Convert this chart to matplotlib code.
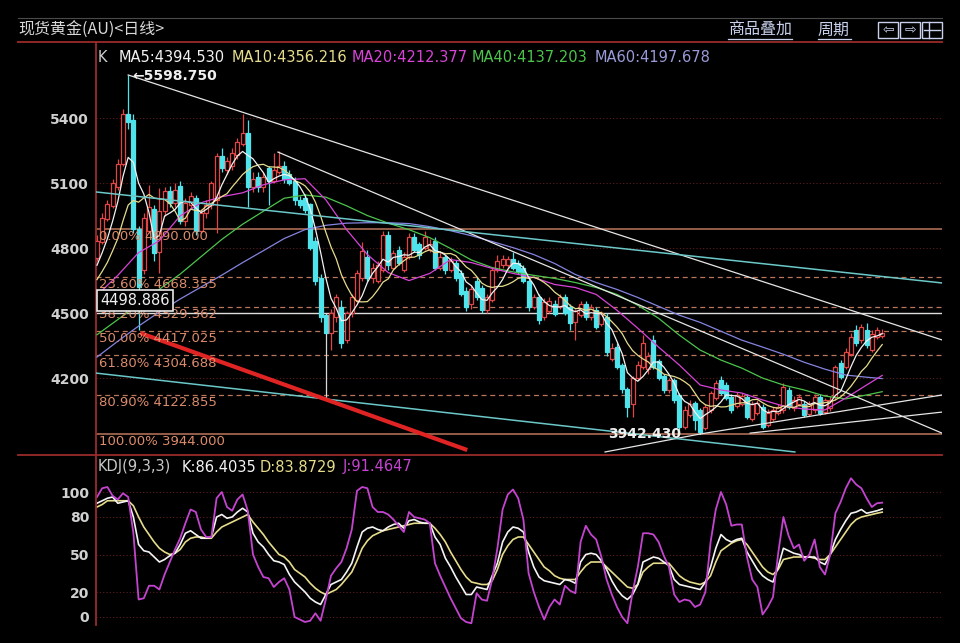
import numpy as np
import pandas as pd
import matplotlib
matplotlib.use('Agg')
import matplotlib.pyplot as plt
from matplotlib.lines import Line2D
from matplotlib.patches import Rectangle

plt.rcParams['font.family'] = ['DejaVu Sans', 'Noto Sans CJK SC']

# ---- daily candles, spot gold ----
opens = [4756, 4830, 4935, 4995, 5080, 5190, 5420, 5390, 4890, 4700,
         4880, 4980, 4780, 4970, 5064, 5010, 5087, 4926, 5000, 5030,
         4880, 4960, 5000, 5020, 5225, 5160, 5180, 5230, 5280, 5330,
         5080, 5130, 5080, 5170, 5110, 5150, 5180, 5140, 5110, 5020,
         5030, 5005, 4834, 4660, 4490, 4410, 4480, 4526, 4375, 4500,
         4560, 4664, 4760, 4660, 4650, 4700, 4860, 4710, 4790, 4700,
         4760, 4850, 4820, 4800, 4790, 4834, 4710, 4760, 4697, 4730,
         4687, 4604, 4540, 4650, 4618, 4513, 4560, 4697, 4720, 4720,
         4750, 4730, 4710, 4650, 4530, 4575, 4480, 4510, 4540, 4530,
         4575, 4526, 4460, 4490, 4540, 4480, 4513, 4450, 4480, 4290,
         4343, 4260, 4150, 4080, 4200, 4250, 4240, 4375, 4280, 4210,
         4145, 4191, 4122, 3975, 4030, 4085, 4053, 3970, 4053, 4110,
         4191, 4168, 4113, 4070, 4080, 4113, 4010, 4040, 4067, 3985,
         4010, 4040, 4053, 4145, 4060, 4080, 4080, 4035, 4053, 4113,
         4045, 4060, 4113, 4270, 4250, 4313, 4420, 4375, 4421, 4330,
         4390, 4395]
highs = [4860, 4960, 5020, 5120, 5210, 5440, 5598.75, 5420, 4900, 4960,
         5090, 5000, 5078, 5080, 5085, 5100, 5110, 5030, 5060, 5045,
         4980, 5020, 5110, 5240, 5260, 5220, 5260, 5310, 5420, 5390,
         5150, 5150, 5150, 5180, 5240, 5250, 5200, 5160, 5130, 5040,
         5050, 5010, 4850, 4680, 4500, 4520, 4590, 4560, 4510, 4590,
         4700, 4830, 4790, 4730, 4740, 4880, 4880, 4790, 4810, 4780,
         4870, 4870, 4830, 4880, 4840, 4850, 4780, 4770, 4760, 4745,
         4700, 4620, 4630, 4665, 4630, 4590, 4710, 4770, 4770, 4765,
         4780, 4745, 4720, 4665, 4590, 4590, 4570, 4575, 4560, 4590,
         4590, 4540, 4520, 4555, 4555, 4540, 4530, 4510, 4500, 4360,
         4360, 4270, 4160, 4210, 4280, 4400, 4320, 4400, 4290, 4220,
         4200, 4200, 4130, 4070, 4100, 4095, 4060, 4080, 4140, 4190,
         4210, 4180, 4125, 4135, 4130, 4125, 4095, 4100, 4080, 4055,
         4065, 4080, 4175, 4160, 4115, 4125, 4095, 4095, 4125, 4125,
         4110, 4115, 4260, 4285, 4340, 4410, 4444, 4450, 4455, 4420,
         4435, 4425]
lows = [4740, 4820, 4925, 4985, 5070, 5180, 5350, 4870, 4421, 4680,
        4870, 4740, 4683, 4950, 4990, 4990, 4910, 4900, 4980, 4860,
        4870, 4940, 4980, 4870, 5150, 5140, 5160, 5210, 5270, 4990,
        5060, 5060, 5060, 5000, 5100, 5140, 5100, 5090, 5000, 4985,
        4960, 4790, 4630, 4460, 4105, 4330, 4460, 4340, 4360, 4480,
        4550, 4650, 4650, 4640, 4640, 4690, 4700, 4700, 4720, 4690,
        4750, 4780, 4750, 4790, 4780, 4700, 4700, 4680, 4690, 4650,
        4580, 4510, 4520, 4560, 4500, 4500, 4550, 4690, 4710, 4705,
        4700, 4680, 4640, 4510, 4520, 4450, 4470, 4500, 4485, 4520,
        4490, 4420, 4375, 4480, 4470, 4470, 4425, 4440, 4300, 4280,
        4240, 4130, 4020, 4020, 4190, 4240, 4220, 4240, 4190, 4130,
        4130, 4085, 3960, 3965, 4020, 3960, 3942.43, 3960, 4040, 4100,
        4120, 4100, 4040, 4060, 4070, 4010, 4000, 4030, 3965, 3975,
        4000, 4030, 4040, 4055, 4050, 4070, 4020, 4025, 4040, 4030,
        4035, 4050, 4100, 4195, 4240, 4300, 4350, 4360, 4340, 4320,
        4380, 4385]
closes = [4834, 4940, 5005, 5100, 5190, 5418, 5380, 4890, 4620, 4940,
          4990, 4775, 4970, 5064, 5010, 5070, 4926, 5010, 5040, 4880,
          4960, 5000, 5100, 5225, 5170, 5200, 5240, 5290, 5330, 5080,
          5120, 5080, 5130, 5110, 5160, 5180, 5120, 5100, 5020, 5000,
          4975, 4802, 4650, 4480, 4410, 4500, 4572, 4360, 4500, 4572,
          4683, 4788, 4664, 4710, 4720, 4860, 4720, 4775, 4730, 4760,
          4850, 4790, 4770, 4850, 4820, 4710, 4760, 4697, 4742, 4664,
          4590, 4526, 4610, 4572, 4513, 4572, 4697, 4742, 4750, 4750,
          4710, 4690, 4650, 4526, 4575, 4467, 4550, 4555, 4495, 4575,
          4500, 4452, 4510, 4540, 4480, 4526, 4435, 4500, 4320, 4340,
          4250, 4150, 4067, 4200, 4260, 4360, 4300, 4250, 4200, 4145,
          4191, 4099, 3975, 4053, 4080, 4007, 3950, 4067, 4130, 4175,
          4130, 4110, 4053, 4120, 4115, 4020, 4080, 4085, 3975, 4040,
          4053, 4067, 4160, 4067, 4100, 4113, 4030, 4080, 4113, 4040,
          4099, 4099, 4250, 4205, 4320, 4390, 4360, 4435, 4352, 4405,
          4421, 4410]
# closes just before the visible window, only used to seed MA5 / MA10
prior_closes = [4560, 4590, 4570, 4620, 4600, 4650, 4680, 4700, 4740]

# slower averages, every 4th day
ma_days = [0, 4, 8, 12, 16, 20, 24, 28, 32, 36, 40, 44, 48, 52, 56, 60, 64, 68, 72, 76,
           80, 84, 88, 92, 96, 100, 104, 108, 112, 116, 120, 124, 128, 132, 136, 140, 144, 148, 151]
ma20 = [4582, 4674, 4779, 4834, 4949, 5009, 5037, 5055, 5092, 5115, 5120, 5023, 4885, 4770, 4687, 4650,
        4683, 4747, 4733, 4706, 4683, 4664, 4632, 4618, 4586, 4513, 4430, 4343, 4260, 4168, 4145, 4131,
        4099, 4071, 4057, 4053, 4108, 4168, 4212.377]
ma40 = [4400, 4470, 4540, 4610, 4680, 4760, 4840, 4910, 4970, 5030, 5045, 5035, 4995, 4950, 4915, 4885,
        4848, 4798, 4745, 4710, 4690, 4674, 4660, 4641, 4618, 4586, 4536, 4476, 4398, 4329, 4283, 4246,
        4200, 4168, 4145, 4117, 4104, 4122, 4137.203]
ma60 = [4297, 4370, 4440, 4505, 4565, 4620, 4675, 4733, 4788, 4844, 4885, 4905, 4915, 4917, 4917, 4913,
        4899, 4880, 4857, 4830, 4802, 4770, 4729, 4678, 4641, 4609, 4572, 4531, 4490, 4457, 4416, 4375,
        4343, 4310, 4273, 4241, 4214, 4204, 4197.678]

# KDJ(9,3,3)
kdj_k = [91, 93, 95, 96, 91, 92, 93, 80, 58, 53, 52, 48, 44, 46, 49, 51, 58, 67, 69, 66,
         63, 63, 64, 80, 82, 79, 80, 84, 87, 84, 67, 60, 56, 50, 45, 44, 42, 34, 28, 24,
         20, 15, 12, 10, 18, 26, 28, 30, 36, 43, 56, 68, 71, 72, 70, 69, 72, 74, 75, 71,
         77, 78, 76, 75, 75, 64, 58, 47, 40, 32, 25, 18, 18, 24, 23, 22, 33, 43, 60, 68,
         72, 71, 68, 52, 40, 32, 29, 28, 27, 26, 30, 29, 27, 44, 50, 51, 50, 45, 38, 29,
         22, 17, 14, 18, 26, 44, 46, 48, 47, 44, 41, 30, 26, 25, 24, 23, 22, 28, 40, 55,
         66, 62, 60, 62, 63, 52, 45, 38, 33, 30, 28, 40, 55, 53, 51, 50, 48, 48, 48, 44,
         42, 50, 62, 70, 77, 83, 84, 86, 83, 84, 85, 86.4035]
kdj_d = [88, 90, 93, 93, 93, 93, 93, 89, 80, 72, 66, 60, 55, 52, 50, 51, 54, 60, 63, 64,
         64, 63, 63, 68, 72, 74, 76, 78, 80, 82, 76, 71, 66, 60, 55, 50, 48, 44, 38, 35,
         32, 27, 23, 20, 18, 20, 22, 26, 31, 36, 45, 55, 61, 65, 67, 69, 70, 71, 72, 73,
         74, 75, 75, 75, 75, 71, 66, 60, 52, 45, 38, 32, 28, 27, 26, 26, 29, 38, 50, 57,
         62, 64, 64, 58, 52, 46, 40, 37, 33, 31, 30, 30, 30, 36, 41, 44, 44, 44, 40, 36,
         32, 28, 24, 23, 26, 36, 40, 43, 43, 43, 43, 38, 33, 30, 28, 27, 26, 28, 33, 44,
         53, 56, 59, 61, 62, 58, 52, 46, 40, 36, 34, 38, 46, 47, 48, 48, 48, 48, 47, 46,
         46, 50, 56, 62, 68, 74, 78, 80, 81, 82, 83, 83.8729]
kdj_j = [96, 103, 104, 97, 94, 99, 96, 67, 14, 15, 25, 25, 22, 34, 44, 54, 63, 75, 86, 84,
         70, 64, 64, 95, 100, 88, 85, 94, 98, 85, 50, 40, 32, 31, 24, 28, 31, 22, 0, -2,
         -4, -3, 3, -3, 14, 33, 39, 44, 55, 70, 101, 104, 103, 88, 84, 84, 82, 78, 73, 68,
         84, 80, 79, 78, 75, 43, 33, 24, 15, 7, -1, -4, -5, 19, 14, 13, 30, 55, 86, 98,
         102, 95, 78, 35, 20, 8, -2, 8, 14, 10, 25, 21, 19, 60, 73, 66, 62, 48, 30, 18,
         8, 0, -5, 20, 40, 67, 67, 66, 60, 49, 40, 18, 12, 14, 13, 8, 10, 20, 60, 86,
         100, 90, 73, 74, 74, 48, 30, 24, 2, 8, 16, 51, 80, 65, 55, 58, 45, 50, 62, 40,
         34, 50, 83, 92, 103, 111, 106, 103, 95, 88, 91, 91.4647]

# fibonacci retracement 5598 -> 3944
fib_pct = ['0.00%', '23.60%', '38.20%', '50.00%', '61.80%', '80.90%', '100.00%']
fib_price = [4890.000, 4668.355, 4529.362, 4417.025, 4304.688, 4122.855, 3944.000]
mark_price = 4498.886
high_price = 5598.750
low_price = 3942.430
high_day = 6
low_day = 116

# hand-drawn lines, (day, price) anchors
white_lines = [[(6, 5598.75), (162.5, 4376)],
               [(34.8, 5243), (162.5, 3946)],
               [(97.7, 3859), (116, 3942)],
               [(116, 3942), (162.5, 4122)],
               [(125.6, 3946), (162.5, 4043)]]
channel_lines = [[(-0.2, 5059), (162.5, 4639)],
                 [(-0.2, 4223), (134.2, 3859)]]
red_line = [(8.3, 4408), (71.2, 3868)]

price_ticks = [4200, 4500, 4800, 5100, 5400]
kdj_ticks = [0, 20, 50, 80, 100]

# ---- layout (pixel helpers) ----
W, H = 960, 643
def fx(px): return px / W
def fy(py): return 1 - py / H

FRAME = '#9a2b2b'
GRID = '#5c1e1e'
UP = '#e04646'
DOWN = '#4fe3ec'
FIB = '#dc8c6c'
C_MA5, C_MA10, C_MA20, C_MA40, C_MA60 = '#f2f2f2', '#e6dc8c', '#d844d8', '#4cc44c', '#8484e0'
C_J = '#c444d0'

fig = plt.figure(figsize=(9.6, 6.43), dpi=100, facecolor='black')
ax = fig.add_axes([fx(96), fy(455), fx(942) - fx(96), fy(42) - fy(455)])
axk = fig.add_axes([fx(96), fy(625), fx(942) - fx(96), fy(455) - fy(625)])

for a in (ax, axk):
    a.set_facecolor('black')
    for s in ('top', 'right', 'bottom'):
        a.spines[s].set_visible(False)
    a.spines['left'].set_color(FRAME)
    a.spines['left'].set_linewidth(1.3)
    a.set_xticks([])
    a.set_xlim(-0.19, 162.5)
    a.tick_params(axis='y', length=0, pad=5, labelcolor='#d0d0d0', labelsize=10)

ax.set_ylim(3845, 5751)
axk.set_ylim(-6.4, 129.6)
ax.set_yticks(price_ticks)
ax.set_yticklabels([str(t) for t in price_ticks])
axk.set_yticks(kdj_ticks)
axk.set_yticklabels([str(t) for t in kdj_ticks])
for lbl in ax.get_yticklabels() + axk.get_yticklabels():
    lbl.set_fontweight('bold')

for t in price_ticks:
    ax.axhline(t, color=GRID, lw=0.8, ls=(0, (1, 2)), zorder=0)
for t in kdj_ticks:
    axk.axhline(t, color=GRID, lw=0.8, ls=(0, (1, 2)), zorder=0)

# fibonacci levels
for k, (pct, pr) in enumerate(zip(fib_pct, fib_price)):
    solid = k in (0, len(fib_price) - 1)
    ax.axhline(pr, color=FIB, lw=1.1 if solid else 0.9,
               ls='-' if solid else (0, (4, 3)), alpha=0.85, zorder=1)
    ax.annotate(f'{pct} {pr:.3f}', xy=(0, pr), xycoords=('axes fraction', 'data'),
                xytext=(2, -1), textcoords='offset points', ha='left', va='top',
                color=FIB, fontsize=9.5, zorder=6)

ax.axhline(mark_price, color='#dcdcdc', lw=1.0, zorder=1)

# candles
days = np.arange(len(closes))
for i in days:
    o, h, l, c = opens[i], highs[i], lows[i], closes[i]
    up = c >= o
    col = UP if up else DOWN
    wick = '#d8d8d8' if i == 44 else col
    ax.vlines(i, l, h, color=wick, lw=0.9, zorder=2)
    ax.add_patch(Rectangle((i - 0.38, min(o, c)), 0.76, max(abs(c - o), 2),
                           facecolor='black' if up else col, edgecolor=col,
                           lw=0.9, zorder=3))

# moving averages
cs = pd.Series(prior_closes + closes, dtype=float)
n0 = len(prior_closes)
ma5 = cs.rolling(5).mean().to_numpy()[n0:]
ma10 = cs.rolling(10).mean().to_numpy()[n0:]
ax.plot(ma_days, ma60, color=C_MA60, lw=0.9, zorder=4)
ax.plot(ma_days, ma40, color=C_MA40, lw=0.9, zorder=4)
ax.plot(ma_days, ma20, color=C_MA20, lw=0.9, zorder=4)
ax.plot(days, ma10, color=C_MA10, lw=0.9, zorder=4)
ax.plot(days, ma5, color=C_MA5, lw=0.9, zorder=4)

# drawn lines
for (a0, a1) in white_lines:
    ax.plot([a0[0], a1[0]], [a0[1], a1[1]], color='#e6e6e6', lw=0.9, zorder=5)
for (a0, a1) in channel_lines:
    ax.plot([a0[0], a1[0]], [a0[1], a1[1]], color='#6cc8c8', lw=1.1, zorder=5)
ax.plot([red_line[0][0], red_line[1][0]], [red_line[0][1], red_line[1][1]],
        color='#e02424', lw=3, solid_capstyle='butt', zorder=5)

ax.annotate(f'\u2190{high_price:.3f}', xy=(high_day, high_price), xytext=(3, -1),
            textcoords='offset points', ha='left', va='center', color='#f0f0f0',
            fontsize=10, fontweight='bold', zorder=7)
ax.annotate(f'{low_price:.3f}', xy=(low_day, low_price), xytext=(-14, 0),
            textcoords='offset points', ha='right', va='center', color='#f0f0f0',
            fontsize=10, fontweight='bold', zorder=7)
ax.annotate(f'{mark_price:.3f}', xy=(0, mark_price), xycoords=('axes fraction', 'data'),
            xytext=(3, 4), textcoords='offset points', ha='left', va='bottom',
            color='#f0f0f0', fontsize=10.5, zorder=8,
            bbox=dict(boxstyle='square,pad=0.2', facecolor='black', edgecolor='#e8e8e8', lw=1.2))

# KDJ panel
axk.plot(days, kdj_d, color=C_MA10, lw=1.2)
axk.plot(days, kdj_k, color='#f4f4f4', lw=1.2)
axk.plot(days, kdj_j, color=C_J, lw=1.3)

# frame lines and header
def hline(y, x0, x1, color, lw):
    fig.add_artist(Line2D([fx(x0), fx(x1)], [fy(y), fy(y)], transform=fig.transFigure,
                          color=color, lw=lw))

hline(18, 18, 942, '#4a4a4a', 0.8)
hline(42, 18, 942, FRAME, 1.3)
hline(455, 18, 942, FRAME, 1.3)

fig.text(fx(18), fy(30), '现货黄金(AU)<日线>', color='#d8d8d8', fontsize=11.5,
         family=['Noto Sans CJK SC', 'DejaVu Sans'], va='center', ha='left')
MENU = '#c8d0ec'
for label, x0, x1 in [('商品叠加', 728, 792), ('周期', 818, 851)]:
    fig.text(fx(x0), fy(30), label, color=MENU, fontsize=11.5,
             family=['Noto Sans CJK SC', 'DejaVu Sans'], va='center', ha='left')
    hline(39, x0, x1, MENU, 0.9)
for k, (glyph, x0) in enumerate([('\u21e6', 878), ('\u21e8', 900), ('', 922)]):
    fig.add_artist(Rectangle((fx(x0), fy(38)), 20 / W, 16 / H, transform=fig.transFigure,
                             fill=False, edgecolor=MENU, lw=1.0))
    if glyph:
        fig.text(fx(x0 + 10), fy(30), glyph, color=MENU, fontsize=10,
                 ha='center', va='center')
    else:
        hline(30, x0 + 2, x0 + 18, MENU, 1.0)
        fig.add_artist(Line2D([fx(x0 + 7), fx(x0 + 7)], [fy(22), fy(38)],
                              transform=fig.transFigure, color=MENU, lw=1.0))

legend_main = [('K', 98, '#cfcfcf'), ('MA5:4394.530', 119, C_MA5),
               ('MA10:4356.216', 232, C_MA10), ('MA20:4212.377', 352, C_MA20),
               ('MA40:4137.203', 472, C_MA40), ('MA60:4197.678', 595, '#9a9ad8')]
for txt, x0, col in legend_main:
    fig.text(fx(x0), fy(57), txt, color=col, fontsize=10.5, va='center', ha='left')

legend_kdj = [('KDJ(9,3,3)', 98, '#c8c8c8'), ('K:86.4035', 182, '#f4f4f4'),
              ('D:83.8729', 260, C_MA10), ('J:91.4647', 343, C_J)]
for txt, x0, col in legend_kdj:
    fig.text(fx(x0), fy(467), txt, color=col, fontsize=10.5, va='center', ha='left')

fig.savefig('out.png', dpi=100, facecolor='black')
